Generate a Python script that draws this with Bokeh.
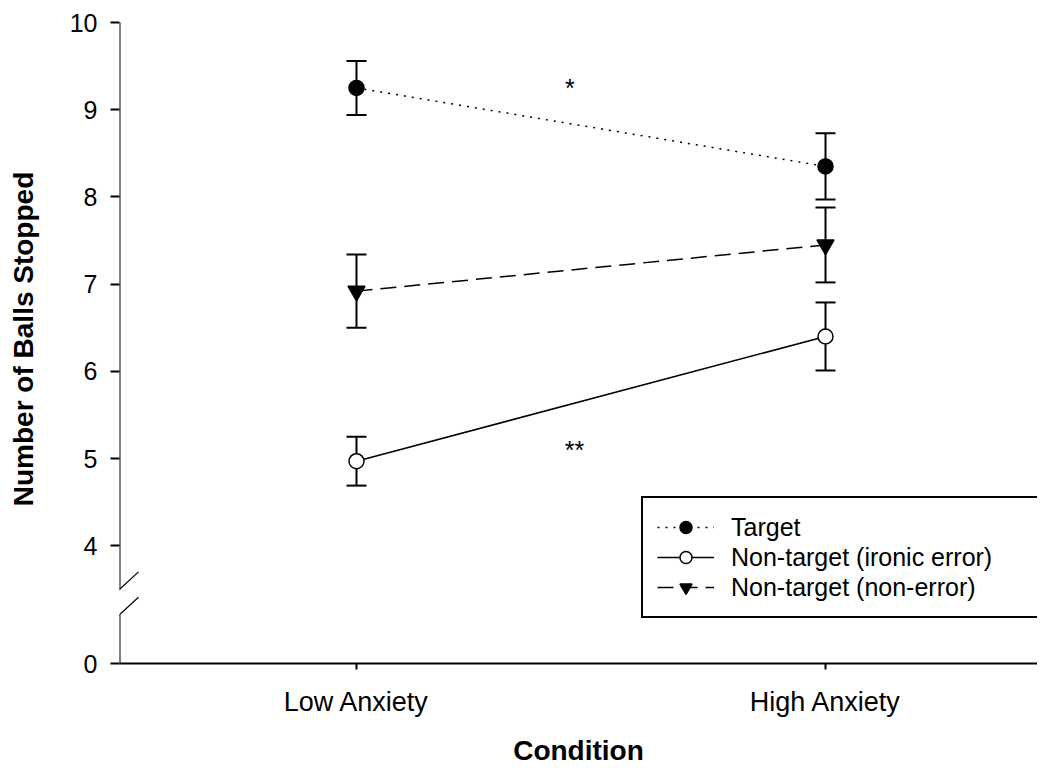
from bokeh.plotting import figure
from bokeh.models import (ColumnDataSource, Whisker, TeeHead, Legend, LegendItem,
                          FixedTicker, Range1d, Arrow, Label)
from bokeh.embed import file_html
from bokeh.resources import INLINE

# ---------------- data ----------------
conditions = ["Low Anxiety", "High Anxiety"]
target_mean = [9.25, 8.35]
target_se = [0.31, 0.38]
ironic_mean = [4.97, 6.40]
ironic_se = [0.28, 0.39]
nonerror_mean = [6.92, 7.45]
nonerror_se = [0.42, 0.43]
series_labels = ["Target", "Non-target (ironic error)", "Non-target (non-error)"]
y_tick_values = [0, 4, 5, 6, 7, 8, 9, 10]

# broken axis: value 0 is drawn at this display position, values >= 4 as-is
ZERO_POS = 2.65
BREAK_TOP = 3.50
BREAK_BOTTOM = 3.21

FONT = "Liberation Sans"

x_pos = [i + 1 for i in range(len(conditions))]

p = figure(width=1037, height=768, output_backend="svg", toolbar_location=None,
           x_range=Range1d(0.4947, 2.452), y_range=Range1d(ZERO_POS, 10.092),
           min_border_left=119, min_border_right=0, min_border_top=14,
           min_border_bottom=105)
p.outline_line_color = None
p.xgrid.visible = False
p.ygrid.visible = False
p.background_fill_color = "white"
p.border_fill_color = "white"


def tick_pos(v):
    return ZERO_POS if v == 0 else v


def make_source(mean, se):
    return ColumnDataSource(dict(
        x=x_pos, y=mean,
        upper=[m + s for m, s in zip(mean, se)],
        lower=[m - s for m, s in zip(mean, se)],
    ))


src_t = make_source(target_mean, target_se)
src_i = make_source(ironic_mean, ironic_se)
src_n = make_source(nonerror_mean, nonerror_se)

# error bars
for src in (src_t, src_n, src_i):
    w = Whisker(source=src, base="x", upper="upper", lower="lower",
                dimension="height", line_width=2, line_color="black",
                upper_head=TeeHead(size=20, line_width=2, line_color="black"),
                lower_head=TeeHead(size=20, line_width=2, line_color="black"),
                level="underlay")
    p.add_layout(w)

# lines
lt = p.line("x", "y", source=src_t, line_color="black", line_width=1.5, line_dash="2 6")
li = p.line("x", "y", source=src_i, line_color="black", line_width=1.5)
ln = p.line("x", "y", source=src_n, line_color="black", line_width=1.5, line_dash="16 8")

# markers
st = p.scatter("x", "y", source=src_t, marker="circle", size=15,
               fill_color="black", line_color="black", line_width=1.5)
si = p.scatter("x", "y", source=src_i, marker="circle", size=15,
               fill_color="white", line_color="black", line_width=1.5)
sn = p.scatter("x", "y", source=src_n, marker="inverted_triangle", size=17,
               fill_color="black", line_color="black", line_width=1.5)

# axes
p.xaxis.ticker = FixedTicker(ticks=x_pos)
p.xaxis.major_label_overrides = {x: c for x, c in zip(x_pos, conditions)}
p.xaxis.minor_tick_line_color = None
p.xaxis.major_tick_in = 0
p.xaxis.major_tick_out = 6
p.xaxis.major_tick_line_width = 2
p.xaxis.axis_line_width = 2
p.xaxis.major_label_standoff = 17
p.xaxis.major_label_text_font = FONT
p.xaxis.major_label_text_font_size = "27px"
p.xaxis.major_label_text_color = "black"
p.xaxis.axis_label = "Condition"
p.xaxis.axis_label_text_font = FONT
p.xaxis.axis_label_text_font_style = "bold"
p.xaxis.axis_label_text_font_size = "28px"
p.xaxis.axis_label_text_color = "black"
p.xaxis.axis_label_standoff = 15

p.yaxis.ticker = FixedTicker(ticks=[tick_pos(v) for v in y_tick_values])
p.yaxis.major_label_overrides = {tick_pos(v): str(v) for v in y_tick_values}
p.yaxis.minor_tick_line_color = None
p.yaxis.major_tick_in = 0
p.yaxis.major_tick_out = 9
p.yaxis.major_tick_line_width = 2
p.yaxis.axis_line_color = None
p.yaxis.major_label_standoff = 13
p.yaxis.major_label_text_font = FONT
p.yaxis.major_label_text_font_size = "25px"
p.yaxis.major_label_text_color = "black"
p.yaxis.axis_label = "Number of Balls Stopped"
p.yaxis.axis_label_text_font = FONT
p.yaxis.axis_label_text_font_style = "bold"
p.yaxis.axis_label_text_font_size = "28px"
p.yaxis.axis_label_text_color = "black"
p.yaxis.axis_label_standoff = 28

# broken y axis line and break marks
x0 = p.x_range.start
p.add_layout(Arrow(end=None, start=None, x_start=x0, y_start=10, x_end=x0, y_end=BREAK_TOP,
                   line_width=2, line_color="black"))
p.add_layout(Arrow(end=None, start=None, x_start=x0, y_start=BREAK_BOTTOM, x_end=x0, y_end=ZERO_POS,
                   line_width=2, line_color="black"))
dx = 0.0405
for yc in (BREAK_TOP, BREAK_BOTTOM):
    p.add_layout(Arrow(end=None, start=None, x_start=x0 - dx, y_start=yc - 0.2,
                       x_end=x0 + dx, y_end=yc + 0.2, line_width=1.2, line_color="black"))

# significance markers
p.add_layout(Label(x=1.455, y=9.25, text="*", text_align="center", text_baseline="alphabetic",
                   text_font=FONT, text_font_size="25px", text_color="black"))
p.add_layout(Label(x=1.465, y=5.10, text="**", text_align="center", text_baseline="alphabetic",
                   text_font=FONT, text_font_size="25px", text_color="black"))

legend = Legend(items=[
    LegendItem(label=series_labels[0], renderers=[lt, st]),
    LegendItem(label=series_labels[1], renderers=[li, si]),
    LegendItem(label=series_labels[2], renderers=[ln, sn]),
], location=(522, 45))
legend.border_line_color = "black"
legend.border_line_width = 2
legend.border_line_alpha = 1
legend.background_fill_alpha = 1
legend.padding = 14
legend.spacing = 0
legend.margin = 0
legend.glyph_width = 57
legend.glyph_height = 30
legend.label_standoff = 17
legend.label_height = 30
legend.label_width = 293
legend.label_text_font = FONT
legend.label_text_font_size = "25px"
legend.label_text_color = "black"
legend.label_text_baseline = "middle"
p.add_layout(legend)

open("out.html", "w").write(file_html(p, INLINE))
